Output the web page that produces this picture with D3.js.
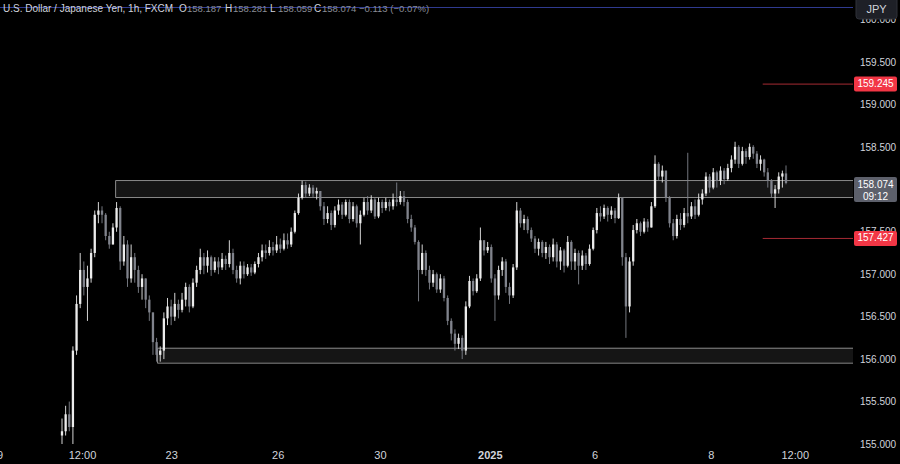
<!DOCTYPE html>
<html><head><meta charset="utf-8">
<script src="https://cdn.jsdelivr.net/npm/d3@7"></script>
<style>html,body{margin:0;padding:0;background:#000;overflow:hidden}</style>
</head><body><svg id="c" width="900" height="464"></svg>
<script>
const firstOpen = 155.10;
const closes = [155.15,155.35,155.20,156.10,156.65,157.05,156.85,156.95,157.25,157.70,
157.75,157.70,157.45,157.35,157.55,157.78,157.15,157.35,156.95,157.20,
157.05,156.85,156.95,156.70,156.55,156.20,156.05,156.10,156.48,156.62,
156.50,156.65,156.58,156.70,156.85,156.62,156.90,157.05,157.20,157.10,
157.20,157.05,157.15,157.08,157.18,157.12,157.25,157.05,156.95,157.10,
157.00,157.08,157.02,157.12,157.20,157.28,157.25,157.32,157.28,157.35,
157.30,157.40,157.35,157.50,157.72,157.90,158.05,157.95,158.02,157.95,
157.98,157.80,157.65,157.72,157.58,157.75,157.82,157.70,157.85,157.65,
157.80,157.60,157.70,157.85,157.75,157.88,157.68,157.85,157.78,157.85,
157.80,157.88,157.85,157.92,157.85,157.65,157.55,157.38,157.05,157.25,
157.05,156.90,157.00,156.82,156.95,156.72,156.45,156.30,156.18,156.25,
156.10,156.62,156.92,156.80,156.95,157.40,157.28,157.32,156.95,156.75,
157.05,157.15,156.85,156.75,157.08,157.75,157.60,157.65,157.52,157.42,
157.30,157.38,157.25,157.32,157.20,157.35,157.15,157.28,157.10,157.38,
157.15,157.25,157.10,157.22,157.12,157.30,157.52,157.72,157.68,157.78,
157.70,157.75,157.66,157.90,157.20,156.62,157.15,157.52,157.60,157.50,
157.62,157.55,157.80,158.30,158.15,158.22,157.90,157.60,157.45,157.65,
157.58,157.72,157.68,157.80,157.70,157.88,157.95,158.15,158.02,158.20,
158.10,158.22,158.12,158.25,158.35,158.50,158.30,158.45,158.38,158.50,
158.42,158.30,158.35,158.20,158.10,157.95,158.00,158.15,158.187,158.074];
const highs = [155.30,155.45,155.50,156.15,156.75,157.25,157.15,157.10,157.30,157.75,
157.85,157.80,157.72,157.50,157.60,157.85,157.80,157.45,157.40,157.35,
157.25,157.10,157.00,156.95,156.75,156.55,156.25,156.15,156.55,156.72,
156.70,156.78,156.70,156.78,156.90,156.88,156.95,157.10,157.30,157.25,
157.28,157.22,157.20,157.20,157.25,157.22,157.40,157.30,157.10,157.15,
157.15,157.12,157.12,157.15,157.25,157.35,157.35,157.40,157.38,157.45,
157.42,157.48,157.48,157.55,157.75,157.95,158.10,158.09,158.06,158.05,
158.02,157.98,157.85,157.80,157.75,157.80,157.88,157.85,157.88,157.88,
157.85,157.82,157.75,157.90,157.92,157.93,157.90,157.90,157.88,157.90,
157.88,157.95,158.08,157.98,157.98,157.88,157.70,157.58,157.40,157.35,
157.28,157.10,157.05,157.02,157.00,156.98,156.75,156.48,156.35,156.30,
156.28,156.68,156.98,156.95,157.00,157.55,157.40,157.38,157.35,157.00,
157.10,157.20,157.18,156.90,157.12,157.85,157.78,157.70,157.68,157.55,
157.45,157.42,157.40,157.38,157.35,157.42,157.38,157.32,157.30,157.45,
157.40,157.30,157.28,157.28,157.25,157.35,157.55,157.78,157.80,157.82,
157.80,157.80,157.78,157.95,157.90,157.25,157.20,157.58,157.65,157.62,
157.66,157.65,157.85,158.40,158.32,158.28,158.22,157.92,157.65,157.70,
157.72,157.78,158.43,157.85,157.88,157.95,158.00,158.20,158.18,158.25,
158.22,158.27,158.25,158.30,158.40,158.56,158.52,158.50,158.48,158.54,
158.52,158.45,158.40,158.36,158.25,158.12,158.05,158.20,158.22,158.281];
const lows = [155.00,155.10,155.15,155.00,156.05,156.60,156.75,156.45,156.90,157.20,
157.60,157.60,157.40,157.30,157.35,157.50,157.05,157.10,156.85,156.90,
156.90,156.78,156.70,156.60,156.45,156.05,155.97,155.97,156.00,156.40,
156.40,156.45,156.48,156.55,156.62,156.55,156.60,156.85,157.00,157.00,
157.02,156.98,157.02,157.00,157.05,157.05,157.08,157.00,156.90,156.88,
156.95,156.98,156.98,157.00,157.08,157.15,157.18,157.22,157.22,157.25,
157.25,157.28,157.30,157.32,157.48,157.70,157.88,157.90,157.92,157.90,
157.88,157.75,157.58,157.60,157.52,157.55,157.70,157.65,157.68,157.60,
157.62,157.55,157.35,157.68,157.70,157.72,157.65,157.66,157.72,157.75,
157.74,157.76,157.80,157.82,157.80,157.60,157.50,157.35,156.68,157.00,
156.98,156.82,156.85,156.78,156.78,156.68,156.40,156.22,156.10,156.12,
156.00,156.05,156.60,156.75,156.78,156.92,157.22,157.25,156.90,156.45,
156.70,156.98,156.78,156.65,156.72,157.05,157.55,157.52,157.48,157.38,
157.25,157.22,157.20,157.18,157.12,157.15,157.08,157.05,157.02,157.08,
157.05,157.05,156.88,157.05,157.05,157.10,157.28,157.48,157.62,157.65,
157.62,157.65,157.60,157.65,157.10,156.25,156.55,157.10,157.48,157.45,
157.48,157.50,157.55,157.78,158.10,158.08,157.85,157.55,157.40,157.42,
157.52,157.55,157.60,157.65,157.65,157.68,157.82,157.92,157.96,158.00,
158.02,158.05,158.06,158.10,158.20,158.30,158.25,158.28,158.30,158.35,
158.36,158.25,158.22,158.15,158.02,157.90,157.78,157.95,158.02,158.059];

// 158.000 is fully hidden behind the last-price box in the reference
const yTicks = [155.0,155.5,156.0,156.5,157.0,157.5,158.5,159.0,159.5,160.0];
const xTickLabels = ["19","12:00","23","26","30","2025","6","8","12:00"];
const xTickIndex = [-18,5.5,30,59.3,87.4,117.6,146.4,178.3,201.4];
const zoneTop = [158.109,156.134];
const zoneBottom = [157.909,155.958];
const zoneStart = [14.6,26.1];
const levels = [159.245,157.427];
const levelStart = 192.6;
const lastPrice = 158.074;
const countdown = "09:12";
const headerTitle = "U.S. Dollar / Japanese Yen, 1h, FXCM";
const ohlcKeys = ["O","H","L","C"];
const ohlcValues = ["158.187","158.281","158.059","158.074"];
const changeText = "\u22120.113 (\u22120.07%)";

const svg = d3.select("#c");
const plotRight = 853;
const x = d3.scaleLinear().domain([0, closes.length-1]).range([62, 786]);
const y = d3.scaleLinear().domain([155, 160]).range([444, 19.5]);
const font = "'Liberation Sans', Arial, sans-serif";

svg.append("rect").attr("width",900).attr("height",464).attr("fill","#000");

// zones
const zg = svg.append("g");
zoneTop.forEach((t,i)=>{
  zg.append("rect").attr("x", x(zoneStart[i])).attr("y", y(t))
    .attr("width", plotRight - x(zoneStart[i])).attr("height", y(zoneBottom[i]) - y(t))
    .attr("fill","#151515");
  zg.append("path").attr("d",`M${plotRight},${y(t)+0.5}H${x(zoneStart[i])+0.5}V${y(zoneBottom[i])+0.5}H${plotRight}`)
    .attr("fill","none").attr("stroke","#8a8a8a").attr("stroke-width",1);
});

// candles
const data = closes.map((c,i)=>{
  const o = i===0 ? firstOpen : closes[i-1];
  return {i,o,c,h:Math.max(highs[i],o,c),l:Math.min(lows[i],o,c)};
});
const cg = svg.append("g");
const bw = 2.3;
data.forEach(d=>{
  const col = d.c >= d.o ? "#ececec" : "#80838c";
  const cx = x(d.i);
  cg.append("line").attr("x1",cx).attr("x2",cx).attr("y1",y(d.h)).attr("y2",y(d.l))
    .attr("stroke",col).attr("stroke-width",0.9);
  const top = y(Math.max(d.o,d.c)), bot = y(Math.min(d.o,d.c));
  cg.append("rect").attr("x",cx-bw/2).attr("y",top).attr("width",bw)
    .attr("height",Math.max(1,bot-top)).attr("fill",col);
});

// level lines
levels.forEach(v=>{
  svg.append("line").attr("x1",x(levelStart)).attr("x2",plotRight)
    .attr("y1",y(v)+0.5).attr("y2",y(v)+0.5).attr("stroke","#a52a33").attr("stroke-width",1);
});

// header line
svg.append("line").attr("x1",0).attr("x2",plotRight).attr("y1",7.5).attr("y2",7.5)
  .attr("stroke","#2f3a8f").attr("stroke-width",1);

// y axis labels
const yAxis = d3.axisRight(y).tickValues(yTicks).tickFormat(d3.format(".3f")).tickSize(0).tickPadding(0);
const ya = svg.append("g").attr("transform","translate(860,0)").call(yAxis);
ya.select(".domain").remove();
ya.selectAll("text").attr("fill","#d1d4dc").style("font-family",font).style("font-size","10px");

// x axis labels
const xAxis = d3.axisBottom(x).tickValues(xTickIndex).tickFormat((d,i)=>xTickLabels[i]).tickSize(0).tickPadding(0);
const xa = svg.append("g").attr("transform","translate(0,451)").call(xAxis);
xa.select(".domain").remove();
xa.selectAll("text").attr("fill","#d1d4dc").style("font-family",font).style("font-size","11px")
  .style("font-weight",(d,i)=>xTickLabels[i]==="2025"?"bold":"normal");

// price boxes
function priceBox(v, fill, lines){
  const cy = y(v);
  const h = lines.length>1 ? 25 : 15;
  const top = lines.length>1 ? cy-6 : cy-h/2+0.5;
  svg.append("rect").attr("x",854).attr("y",top).attr("width",43).attr("height",h)
    .attr("rx",2).attr("fill",fill);
  lines.forEach((s,k)=>{
    svg.append("text").attr("text-anchor","middle").attr("fill","#ffffff")
      .style("font-family",font).style("font-size","10px")
      .attr("x",875.5).attr("y",top+10.5+k*12.5).text(s);
  });
}
levels.forEach(v=>priceBox(v,"#f23645",[d3.format(".3f")(v)]));
priceBox(lastPrice,"#5d606b",[d3.format(".3f")(lastPrice),countdown]);

// JPY box
svg.append("rect").attr("x",856).attr("y",-4).attr("width",41).attr("height",23).attr("rx",3)
  .attr("fill","#1e2027").attr("stroke","#2e3038");
svg.append("text").attr("x",876.5).attr("y",12.5).attr("text-anchor","middle").attr("fill","#d1d4dc")
  .style("font-family",font).style("font-size","11px").text("JPY");

// header text
const ht = svg.append("g").style("font-family",font);
ht.append("text").attr("x",3).attr("y",12).attr("fill","#d1d4dc").style("font-size","10px").text(headerTitle);
const ohlcX = [179,225,270,314];
ohlcKeys.forEach((k,i)=>{
  ht.append("text").attr("x",ohlcX[i]).attr("y",12).attr("fill","#d1d4dc").style("font-size","10px").text(k);
  ht.append("text").attr("x",ohlcX[i]+8).attr("y",12).attr("fill","#8a8d96").style("font-size","9.5px").text(ohlcValues[i]);
});
ht.append("text").attr("x",359).attr("y",12).attr("fill","#8a8d96").style("font-size","9.5px").text(changeText);
</script></body></html>
